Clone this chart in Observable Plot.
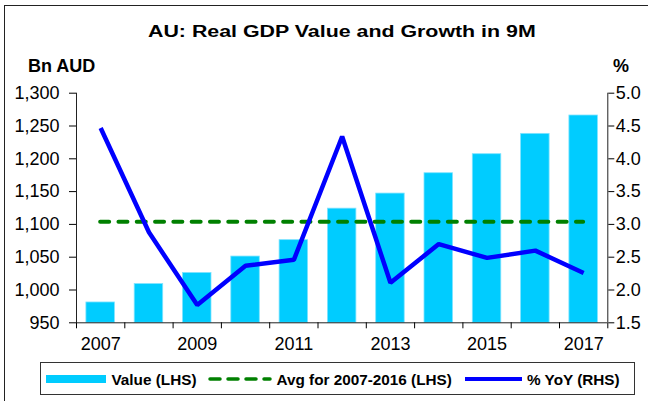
<!DOCTYPE html>
<html>
<head>
<meta charset="utf-8">
<script src="https://cdn.jsdelivr.net/npm/d3@7"></script>
<script src="https://cdn.jsdelivr.net/npm/@observablehq/plot@0.6"></script>
<style>
  html, body { margin: 0; padding: 0; background: #fff; overflow: hidden; }
  #wrap { position: relative; width: 648px; height: 401px; overflow: hidden; font-family: "Liberation Sans", Arial, sans-serif; }
  #frame { position: absolute; left: 4px; top: 5px; width: 700px; height: 500px; border-left: 1.5px solid #222; border-top: 1.5px solid #222; }
  #chart, #overlay { position: absolute; left: 0; top: 0; }
  #overlay { pointer-events: none; }
</style>
</head>
<body>
<div id="wrap">
  <div id="frame"></div>
  <div id="chart"></div>
  <svg id="overlay" width="648" height="401"></svg>
</div>
<script>
// ---- data ----
const years = [2007, 2008, 2009, 2010, 2011, 2012, 2013, 2014, 2015, 2016, 2017];
const gdpValue = [981, 1009, 1026, 1051, 1076, 1124, 1147, 1178, 1207, 1238, 1266];
const yoyPct = [4.47, 2.88, 1.77, 2.37, 2.46, 4.34, 2.11, 2.70, 2.49, 2.60, 2.26];
const avgValue = 1104;
const leftTicks = [950, 1000, 1050, 1100, 1150, 1200, 1250, 1300];
const rightTicks = [1.5, 2.0, 2.5, 3.0, 3.5, 4.0, 4.5, 5.0];
const xTickLabels = [2007, 2009, 2011, 2013, 2015, 2017];
const titleText = "AU: Real GDP Value and Growth in 9M";
const leftUnit = "Bn AUD";
const rightUnit = "%";
const legendLabels = ["Value (LHS)", "Avg for 2007-2016 (LHS)", "% YoY (RHS)"];

// ---- derived ----
const leftDomain = [leftTicks[0], leftTicks[leftTicks.length - 1]];
const rightDomain = [rightTicks[0], rightTicks[rightTicks.length - 1]];
const k = (leftDomain[1] - leftDomain[0]) / (rightDomain[1] - rightDomain[0]);
const toLeft = p => leftDomain[0] + (p - rightDomain[0]) * k;
const fromLeft = v => rightDomain[0] + (v - leftDomain[0]) / k;
const xDomain = [years[0] - 0.5, years[years.length - 1] + 0.5];
const boundaries = years.map(y => y - 0.5).concat([years[years.length - 1] + 0.5]);
const data = years.map((year, i) => ({year, value: gdpValue[i], pct: yoyPct[i]}));
const halfBar = 0.295;

const plot = Plot.plot({
  width: 648,
  height: 401,
  marginLeft: 76,
  marginRight: 40.7,
  marginTop: 92.7,
  marginBottom: 78.7,
  style: {fontSize: "18px", fontFamily: "'Liberation Sans', Arial, sans-serif", color: "#000", background: "transparent"},
  x: {type: "linear", domain: xDomain},
  y: {domain: leftDomain},
  marks: [
    Plot.rectY(data, {x1: d => d.year - halfBar, x2: d => d.year + halfBar, y1: leftDomain[0], y2: "value", fill: "#00ccff", stroke: "#7fe3ff", strokeWidth: 0.8}),
    Plot.ruleY([avgValue], {x1: years[0], x2: years[years.length - 1], stroke: "#008000", strokeWidth: 4, strokeDasharray: "9,9.3", strokeLinecap: "round"}),
    Plot.line(data, {x: "year", y: d => toLeft(d.pct), stroke: "#0000ff", strokeWidth: 4.5, strokeLinejoin: "miter", strokeLinecap: "butt"}),
    Plot.ruleX(xDomain, {stroke: "#222", strokeWidth: 1}),
    Plot.ruleY([leftDomain[0]], {stroke: "#222", strokeWidth: 1}),
    Plot.axisY({anchor: "left", ticks: leftTicks, tickFormat: d3.format(","), tickSize: 7, tickPadding: 10, label: null}),
    Plot.axisY({anchor: "right", ticks: rightTicks.map(toLeft), tickFormat: v => fromLeft(v).toFixed(1), tickSize: 6, tickPadding: 2, label: null}),
    Plot.axisX({ticks: boundaries, tickFormat: () => "", tickSize: 6, label: null}),
    Plot.axisX({ticks: xTickLabels, tickFormat: d => String(d), tickSize: 0, tickPadding: 14, label: null})
  ]
});
document.getElementById("chart").appendChild(plot);

// ---- overlay: title, unit labels, legend ----
const ov = d3.select("#overlay");
const font = "'Liberation Sans', Arial, sans-serif";
const title = ov.append("text").attr("x", 0).attr("y", 0)
  .attr("font-family", font).attr("font-weight", "bold").attr("font-size", 17).text(titleText);
const tw = title.node().getComputedTextLength() || 275;
title.attr("transform", `translate(148,36.5) scale(${388 / tw},1)`);
ov.append("text").attr("x", 28).attr("y", 72).attr("font-family", font).attr("font-weight", "bold").attr("font-size", 18).text(leftUnit);
ov.append("text").attr("x", 613).attr("y", 72).attr("font-family", font).attr("font-weight", "bold").attr("font-size", 18).text(rightUnit);

ov.append("rect").attr("x", 40.5).attr("y", 362.5).attr("width", 594).attr("height", 32).attr("fill", "none").attr("stroke", "#333").attr("stroke-width", 1);
ov.append("rect").attr("x", 46).attr("y", 375).attr("width", 60).attr("height", 8).attr("fill", "#00ccff");
ov.append("line").attr("x1", 210).attr("x2", 270).attr("y1", 379).attr("y2", 379).attr("stroke", "#008000").attr("stroke-width", 3.5).attr("stroke-dasharray", "10,8").attr("stroke-linecap", "round");
ov.append("line").attr("x1", 465).attr("x2", 522).attr("y1", 379).attr("y2", 379).attr("stroke", "#0000ff").attr("stroke-width", 4).attr("stroke-linecap", "butt");
const legendX = [111.5, 276.5, 527];
legendLabels.forEach((t, i) => {
  ov.append("text").attr("x", legendX[i]).attr("y", 385).attr("font-family", font).attr("font-weight", "bold").attr("font-size", 15.3).text(t);
});
</script>
</body>
</html>
